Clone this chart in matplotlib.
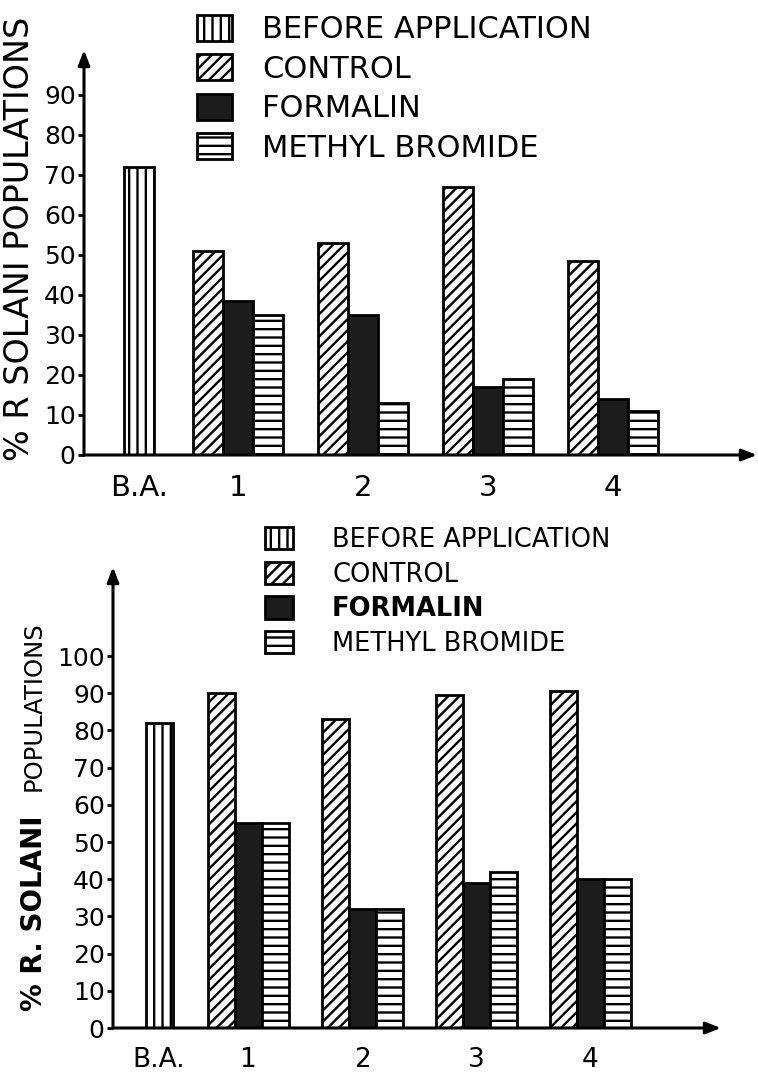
import matplotlib
matplotlib.use("Agg")
import matplotlib.pyplot as plt
from matplotlib.patches import Patch

# ---------------- data ----------------
series = ["BEFORE APPLICATION", "CONTROL", "FORMALIN", "METHYL BROMIDE"]
categories = ["B.A.", "1", "2", "3", "4"]

top_before = [72]
top_control = [51, 53, 67, 48.5]
top_formalin = [38.5, 35, 17, 14]
top_methyl = [35, 13, 19, 11]

bot_before = [82]
bot_control = [90, 83, 89.5, 90.5]
bot_formalin = [55, 32, 39, 40]
bot_methyl = [55, 32, 42, 40]

top_yticks = [0, 10, 20, 30, 40, 50, 60, 70, 80, 90]
bot_yticks = [0, 10, 20, 30, 40, 50, 60, 70, 80, 90, 100]

top_ylabel = "% R SOLANI POPULATIONS"
bot_ylabel_a = "% R. SOLANI"
bot_ylabel_b = "POPULATIONS"

# ---------------- style ----------------
plt.rcParams["font.family"] = ["DejaVu Sans"]
plt.rcParams["hatch.linewidth"] = 1.7
plt.rcParams["hatch.color"] = "black"

W, H = 758, 1072
fig = plt.figure(figsize=(W / 100, H / 100), dpi=100)
fig.patch.set_facecolor("white")

HATCH = {"before": "||", "control": "///", "formalin": None, "methyl": "--"}
DARK = "#1c1c1c"


def px_axes(left, right, top, bottom):
    return fig.add_axes([left / W, 1 - bottom / H, (right - left) / W, (bottom - top) / H])


def draw(ax, before, control, formalin, methyl, ba_x, w, yticks, ytop, xlim,
         tick_fs, xtick_fs, xpad):
    ax.set_facecolor("none")
    groups = [1, 2, 3, 4]
    ax.bar([ba_x], before, w, facecolor="white", edgecolor="black", lw=2,
           hatch=HATCH["before"])
    ax.bar([g - w for g in groups], control, w, facecolor="white", edgecolor="black",
           lw=2, hatch=HATCH["control"])
    ax.bar(groups, formalin, w, facecolor=DARK, edgecolor="black", lw=2)
    ax.bar([g + w for g in groups], methyl, w, facecolor="white", edgecolor="black",
           lw=2, hatch=HATCH["methyl"])
    ax.set_xlim(*xlim)
    ax.set_ylim(0, ytop)
    for s in ax.spines.values():
        s.set_visible(False)
    ax.set_yticks(yticks)
    ax.set_yticklabels([str(t) for t in yticks], fontsize=tick_fs)
    ax.tick_params(axis="y", length=4, width=2, pad=2, direction="out")
    ax.set_xticks([ba_x] + groups)
    ax.set_xticklabels(categories, fontsize=xtick_fs)
    ax.tick_params(axis="x", length=0, pad=xpad)
    ap = dict(arrowstyle="-|>,head_length=0.9,head_width=0.35", lw=2.2, color="black",
              shrinkA=0, shrinkB=0)
    ax.annotate("", xy=(0, 1), xytext=(0, 0), xycoords="axes fraction",
                arrowprops=ap, annotation_clip=False)
    ax.annotate("", xy=(1, 0), xytext=(0, 0), xycoords="axes fraction",
                arrowprops=ap, annotation_clip=False)


handles = [
    Patch(facecolor="white", edgecolor="black", lw=2, hatch=HATCH["before"]),
    Patch(facecolor="white", edgecolor="black", lw=2, hatch=HATCH["control"]),
    Patch(facecolor=DARK, edgecolor="black", lw=2),
    Patch(facecolor="white", edgecolor="black", lw=2, hatch=HATCH["methyl"]),
]

# ---------------- top chart ----------------
ax1 = px_axes(84, 757, 50, 455)
unit1 = 125.0
x1 = lambda p: 1 + (p - 238) / unit1
draw(ax1, top_before, top_control, top_formalin, top_methyl,
     ba_x=x1(139), w=30 / unit1, yticks=top_yticks, ytop=(455 - 50) / 4.0,
     xlim=(x1(84), x1(757)), tick_fs=18, xtick_fs=21, xpad=14)

leg1 = fig.legend(handles, series, loc="upper left",
                  bbox_to_anchor=(197 / W, 1 - 15 / H), frameon=False,
                  fontsize=22, handlelength=1.14, handleheight=0.92,
                  labelspacing=0.33, handletextpad=1.0, borderpad=0, borderaxespad=0)

fig.text(20 / W, 1 - 239 / H, top_ylabel, rotation=90, ha="center", va="center",
         fontsize=24)

# ---------------- bottom chart ----------------
ax2 = px_axes(113, 721, 567, 1028)
unit2 = 114.0
x2 = lambda p: 1 + (p - 248) / unit2
draw(ax2, bot_before, bot_control, bot_formalin, bot_methyl,
     ba_x=x2(159), w=27 / unit2, yticks=bot_yticks, ytop=(1028 - 567) / 3.72,
     xlim=(x2(113), x2(721)), tick_fs=18, xtick_fs=19, xpad=14)

leg2 = fig.legend(handles, series, loc="upper left",
                  bbox_to_anchor=(265 / W, 1 - 527 / H), frameon=False,
                  fontsize=18.5, handlelength=1.09, handleheight=0.97,
                  labelspacing=0.33, handletextpad=1.52, borderpad=0, borderaxespad=0)
leg2.get_texts()[2].set_fontweight("bold")

fig.text(34 / W, 1 - 913 / H, bot_ylabel_a, rotation=90, ha="center", va="center",
         fontsize=20, fontweight="bold")
fig.text(34 / W, 1 - 706 / H, bot_ylabel_b, rotation=90, ha="center", va="center",
         fontsize=17.5)

fig.savefig("out.png", dpi=100, facecolor="white")
